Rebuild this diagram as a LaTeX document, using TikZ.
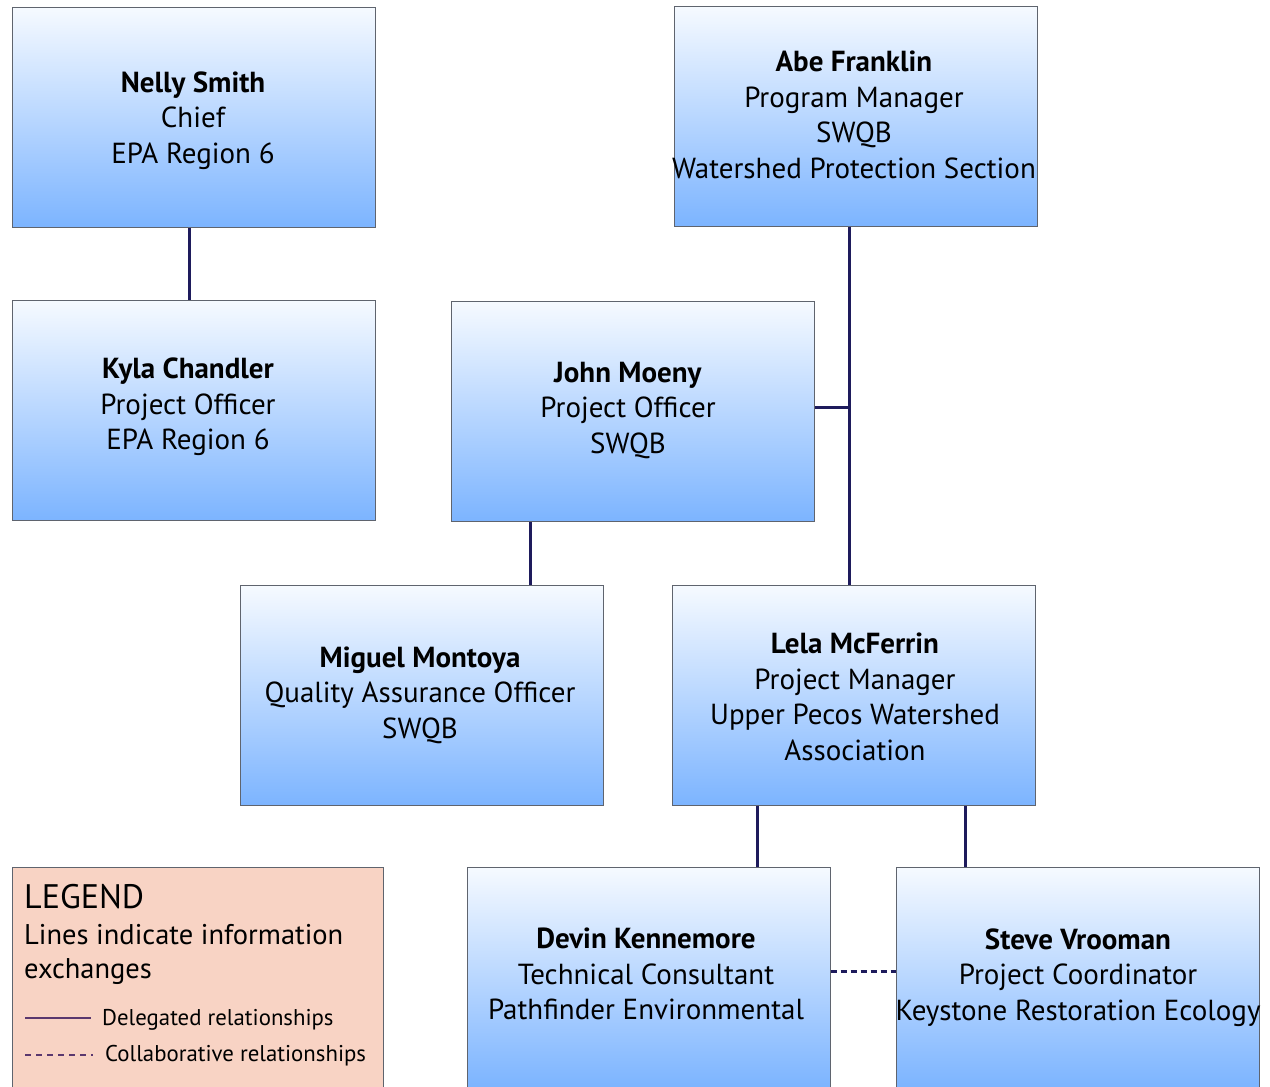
\documentclass[tikz,border=0pt]{standalone}
\usepackage{fontspec}
\setmainfont{PT Sans}
\usetikzlibrary{calc}
\definecolor{boxtop}{RGB}{246,250,255}
\definecolor{boxbot}{RGB}{124,180,255}
\definecolor{boxline}{RGB}{95,100,110}
\definecolor{connline}{RGB}{30,27,92}
\definecolor{legfill}{RGB}{248,211,196}
\definecolor{legline}{RGB}{90,55,110}
\tikzset{
  pbox/.style={draw=boxline, line width=1pt, minimum width=363pt, minimum height=220pt,
    top color=boxtop, bottom color=boxbot, inner sep=0pt},
  ptext/.style={align=center, inner sep=0pt, font=\fontsize{29}{35.5}\selectfont},
  conn/.style={draw=connline, line width=3pt},
  collab/.style={draw=connline, line width=3pt, dash pattern=on 6pt off 4pt},
  legtext/.style={anchor=west, inner sep=0pt, font=\fontsize{28.5}{35.5}\selectfont},
  legitem/.style={anchor=west, inner sep=0pt, font=\fontsize{22.8}{26}\selectfont},
}
\begin{document}
\begin{tikzpicture}[x=1pt,y=-1pt]
\useasboundingbox (0,0) rectangle (1270,1087);
\clip (0,0) rectangle (1270,1087);
\fill[white] (0,0) rectangle (1270,1087);
% boxes
\node[pbox] (nelly) at (194,117) {};
\node[pbox] (abe) at (855.5,116) {};
\node[pbox] (kyla) at (194,410) {};
\node[pbox] (john) at (633,411) {};
\node[pbox] (miguel) at (421.5,695.5) {};
\node[pbox] (lela) at (854,695) {};
\node[pbox] (devin) at (648.5,977) {};
\node[pbox] (steve) at (1078,977) {};
% texts
\node[ptext] (nellyt) at (193,120.5) {\textbf{Nelly Smith}\\Chief\\EPA Region 6};
\node[ptext] (abet) at (854,115) {\textbf{Abe Franklin}\\Program Manager\\SWQB\\Watershed Protection Section};
\node[ptext] (kylat) at (188,407) {\textbf{Kyla Chandler}\\Project Officer\\EPA Region 6};
\node[ptext] (johnt) at (628,410) {\textbf{John Moeny}\\Project Officer\\SWQB};
\node[ptext] (miguelt) at (420,695) {\textbf{Miguel Montoya}\\Quality Assurance Officer\\SWQB};
\node[ptext] (lelat) at (855,697) {\textbf{Lela McFerrin}\\Project Manager\\Upper Pecos Watershed\\Association};
\node[ptext] (devint) at (646,974) {\textbf{Devin Kennemore}\\Technical Consultant\\Pathfinder Environmental};
\node[ptext] (stevet) at (1078,977.5) {\textbf{Steve Vrooman}\\Project Coordinator\\Keystone Restoration Ecology};
% connectors
\draw[conn] (189,0 |- nelly.south) -- (189,0 |- kyla.north);
\draw[conn] (849,0 |- abe.south) -- (849,0 |- lela.north);
\coordinate (branch) at (849,407);
\draw[conn] (john.east |- branch) -- (branch);
\draw[conn] (530,0 |- john.south) -- (530,0 |- miguel.north);
\draw[conn] (757,0 |- lela.south) -- (757,0 |- devin.north);
\draw[conn] (965,0 |- lela.south) -- (965,0 |- steve.north);
\coordinate (dy) at (0,971);
\draw[collab] (devin.east |- dy) -- (steve.west |- dy);
% legend
\node[draw=boxline, line width=1pt, fill=legfill, minimum width=371pt, minimum height=240pt, inner sep=0pt, anchor=north west] (legend) at (12,867) {};
\node[legtext, font=\fontsize{34}{38}\selectfont] (legtitle) at (24,897) {LEGEND};
\node[legtext] (legline1) at (24,935) {Lines indicate information};
\node[legtext] (legline2) at (24,972) {exchanges};
\coordinate (s1) at (25,1018);
\coordinate (s2) at (91,1018);
\coordinate (d1) at (25,1055);
\coordinate (d2) at (93,1055);
\draw[draw=legline, line width=2pt] (s1) -- (s2);
\draw[draw=legline, line width=2pt, dash pattern=on 6pt off 5pt] (d1) -- (d2);
\node[legitem] (leg1) at (102,1020) {Delegated relationships};
\node[legitem] (leg2) at (105,1056) {Collaborative relationships};
\end{tikzpicture}
\end{document}
